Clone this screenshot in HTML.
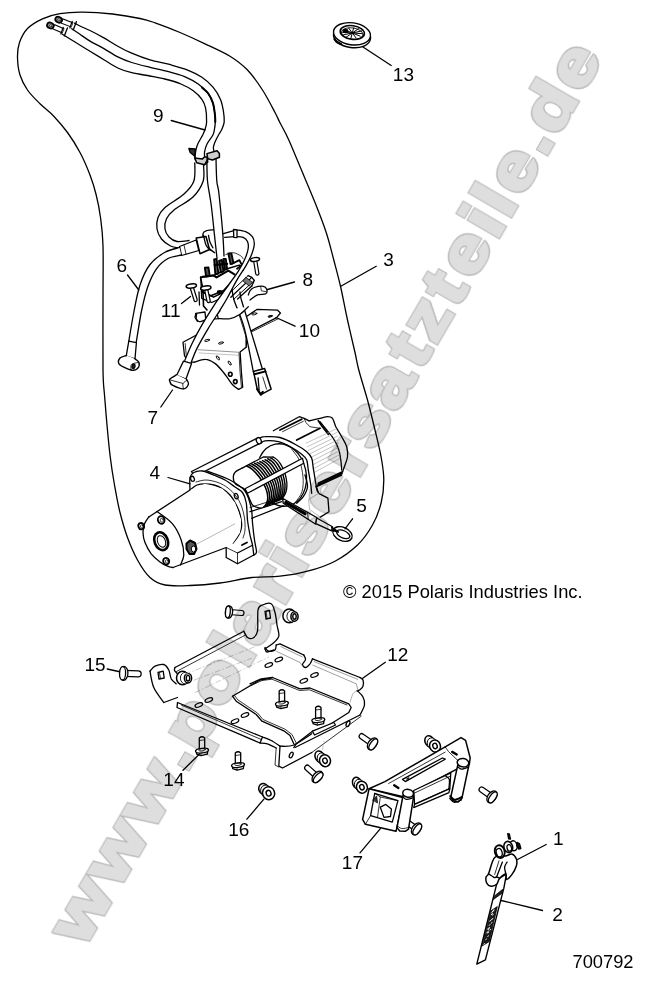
<!DOCTYPE html>
<html>
<head>
<meta charset="utf-8">
<title>700792</title>
<style>
html,body{margin:0;padding:0;background:#fff;}
body{width:647px;height:983px;overflow:hidden;}
svg{display:block;}
.wm{font-family:"Liberation Sans",sans-serif;font-weight:bold;font-size:65.2px;fill:#dedede;stroke-linejoin:miter;}
#wm{mix-blend-mode:multiply;}
.wmi{stroke:#dedede;stroke-width:2.6px;}
.n{font-family:"Liberation Sans",sans-serif;fill:#000;}
.l{fill:none;stroke:#000;stroke-width:1.3;stroke-linecap:round;stroke-linejoin:round;}
.t{fill:none;stroke:#000;stroke-width:0.8;stroke-linecap:round;stroke-linejoin:round;}
.w{fill:#fff;stroke:#000;stroke-width:1.3;stroke-linecap:round;stroke-linejoin:round;}
</style>
</head>
<body>
<svg width="647" height="983" viewBox="0 0 647 983">
<rect width="647" height="983" fill="#fff"/>
<defs><filter id="wf" x="-2%" y="-20%" width="104%" height="140%" color-interpolation-filters="sRGB"><feMorphology in="SourceAlpha" operator="dilate" radius="0.85" result="d"/><feFlood flood-color="#b6b6b6"/><feComposite in2="d" operator="in" result="rim"/><feMerge><feMergeNode in="rim"/><feMergeNode in="SourceGraphic"/></feMerge></filter></defs>
<!-- OUTLINE3 -->
<!-- PARTS -->
<g id="a_outline">
<path class="l" d="M155 22.8C148.3 20.5 147.1 20 140 18.5C132.9 17 122.1 15.1 112.5 14C102.9 12.9 91.2 12.2 82.5 12.2C73.8 12.1 66.7 12.6 60 13.7C53.3 14.8 47.9 16.3 42.5 18.8C37.1 21.3 31.3 24.6 27.5 28.5C23.7 32.5 21.2 37.7 19.5 42.5C17.8 47.3 17.4 52.1 17.5 57.5C17.6 62.9 18.3 69.6 20 75C21.7 80.4 24.2 85.2 27.5 90C30.8 94.8 35.6 99.4 40 103.8C44.4 108.1 49.2 111.5 53.8 116.2C58.3 121 63.1 126.5 67.5 132.5C71.9 138.5 76.2 145.4 80 152.5C83.8 159.6 87.3 167.9 90 175C92.7 182.1 94.5 187.9 96.2 195C98 202.1 99.4 209.1 100.5 217.5C101.6 225.9 102.6 231.8 103 245.5C103.4 259.2 103 279.2 103 300C103 320.8 102.8 354.2 103 370C103.2 385.8 103.8 385.8 104.5 395C105.2 404.2 106.1 415 107 425C107.9 435 108.8 445 110 455C111.2 465 112.8 475.4 114.5 485C116.2 494.6 117.8 503.8 120 512.5C122.2 521.2 124.6 529.6 127.5 537.5C130.4 545.4 133.8 553.3 137.5 560C141.2 566.7 145.4 573.3 150 577.5C154.6 581.7 158.3 583.7 165 585C171.7 586.3 180.8 585.8 190 585.5C199.2 585.2 209.7 584.3 220 583C230.3 581.7 241.8 578.6 251.8 577.5C261.8 576.4 270.7 577.3 280 576.2C289.3 575.2 298.3 573.8 307.5 571.2C316.7 568.8 326.7 565.6 335 561.2C343.3 556.9 351.2 551 357.5 545C363.8 539 368.5 532.1 372.5 525C376.5 517.9 379.4 510 381.2 502.5C383.1 495 383.8 487.5 383.8 480C383.8 472.5 382.7 465.8 381.2 457.5C379.8 449.2 377.3 439.6 375 430C372.7 420.4 370.2 410 367.5 400C364.8 390 360.8 377.9 358.8 370C356.7 362.1 356.9 360.8 355 352.5C353.1 344.2 349.9 330.8 347.5 320C345.1 309.2 343 297.5 340.8 287.5C338.5 277.5 336.2 269.2 333.8 260C331.3 250.8 329.4 242.1 326.2 232.5C323.1 222.9 319 212.5 315 202.5C311 192.5 306.9 182.9 302.5 172.5C298.1 162.1 292.5 148.3 288.8 140C285 131.7 282.3 127.3 280 122.8C277.7 118.2 277.9 118 275 112.5C272.1 107 267.1 97.1 262.5 90C257.9 82.9 252.9 75.6 247.5 70C242.1 64.4 237.1 60.6 230 56.2C222.9 51.9 213.3 47.7 205 43.8C196.7 39.8 188.3 36 180 32.5C171.7 29 161.7 25.1 155 22.8Z"/>
</g>
<g id="b_cables9">
<path d="M74.5 23.2L82 27L90 30.5L103.9 37.9L117.8 46.2L131.7 53.2L150 59.9L168.5 64.2L187.1 69.8L201.9 77.2L213 87.1L220.5 99.4L223.5 111.8L224.2 121.9L222 129L218.5 135L214.8 142.4L213.4 147L213.9 151L194.8 158.2L196.2 148.9L198.1 143.3L202.7 135L205 129.5L206.6 121.9L205.6 108.1L201.9 99.4L193.3 90.8L180.9 84L164.8 79L150 76L131.7 72.7L117.8 68L103.9 59.7L90 51.3L75 42L62.4 34.3Z" fill="#fff" stroke="none"/>
<path class="l" d="M74.5 23.2C75.8 23.8 79.4 25.8 82 27C84.6 28.2 86.3 28.7 90 30.5C93.7 32.3 99.3 35.3 103.9 37.9C108.5 40.5 113.2 43.7 117.8 46.2C122.4 48.8 126.3 50.9 131.7 53.2C137.1 55.5 143.9 58.1 150 59.9C156.1 61.7 162.3 62.6 168.5 64.2C174.7 65.9 181.5 67.6 187.1 69.8C192.7 72 197.6 74.3 201.9 77.2C206.2 80.1 209.9 83.4 213 87.1C216.1 90.8 218.8 95.3 220.5 99.4C222.2 103.5 222.9 108 223.5 111.8C224.1 115.5 224.4 119 224.2 121.9C223.9 124.8 222.9 126.8 222 129C221.1 131.2 219.7 132.8 218.5 135C217.3 137.2 215.7 140.4 214.8 142.4C214 144.4 213.6 145.6 213.4 147C213.2 148.4 213.8 150.3 213.9 151"/>
<path class="l" d="M71.7 28.7C73.1 29.6 77 32.2 80 34.3C83 36.4 86 38.7 90 41.1C94 43.5 99.3 46 103.9 48.6C108.5 51.2 113.2 54.6 117.8 56.9C122.4 59.2 126.3 60.8 131.7 62.5C137.1 64.2 143.9 65.8 150 67.3C156.1 68.8 162.7 70 168.5 71.6C174.3 73.1 179.7 74.5 184.6 76.6C189.5 78.7 194.3 81.2 198.2 84C202.1 86.8 205.6 90.1 208.1 93.3C210.6 96.5 211.9 99.7 213 103.2C214.1 106.7 214.5 111.2 214.9 114.3C215.3 117.4 215.4 119.5 215.3 121.9C215.2 124.4 214.9 126.8 214.5 129C214.1 131.2 214.2 132.4 212.9 135C211.6 137.6 208.3 141.5 206.9 144.3C205.5 147.1 205 149.7 204.6 151.7C204.2 153.7 204.6 155.5 204.6 156.3"/>
<path class="l" d="M62.4 34.3C64.5 35.6 70.4 39.2 75 42C79.6 44.8 85.2 48.3 90 51.3C94.8 54.2 99.3 56.9 103.9 59.7C108.5 62.5 113.2 65.8 117.8 68C122.4 70.2 126.3 71.4 131.7 72.7C137.1 74 144.5 75 150 76C155.5 77 159.7 77.7 164.8 79C170 80.3 176.2 82 180.9 84C185.7 86 189.8 88.2 193.3 90.8C196.8 93.4 199.9 96.5 201.9 99.4C203.9 102.3 204.8 104.3 205.6 108.1C206.4 111.8 206.7 118.3 206.6 121.9C206.5 125.5 205.7 127.3 205 129.5C204.3 131.7 203.8 132.7 202.7 135C201.5 137.3 199.2 141 198.1 143.3C197 145.6 196.8 146.4 196.2 148.9C195.6 151.4 195 156.6 194.8 158.2"/>
<path class="l" d="M202 87.5C203 88.5 206.3 90.7 208.1 93.3C209.9 95.9 211.9 99.7 213 103.2C214.1 106.7 214.5 111.2 214.9 114.3C215.3 117.4 215.2 120.6 215.3 121.9" style="stroke-width:2"/>
<path d="M53.4 26.7L63.5 31" stroke="#000" stroke-width="5.6" fill="none"/>
<path d="M53.9 26.9L62.9 30.8" stroke="#fff" stroke-width="3.4" fill="none"/>
<path class="l" d="M63.2 27.4L60.9 34"/>
<path class="l" d="M67.4 27.9L64.3 36"/>
<ellipse class="w" cx="50.4" cy="25.5" rx="3.5" ry="2.8" transform="rotate(25 50.4 25.5)" style="fill:#8a8a8a;stroke-width:1.7"/>
<ellipse class="w" cx="50.7" cy="25.7" rx="1.3" ry="0.9" transform="rotate(25 50.7 25.7)" style="stroke-width:0.5;fill:#ddd"/>
<path d="M61.7 20.9L72.5 25" stroke="#000" stroke-width="5.6" fill="none"/>
<path d="M62.2 21.1L71.9 24.8" stroke="#fff" stroke-width="3.4" fill="none"/>
<path class="l" d="M72.2 21.4L69.9 28"/>
<path class="l" d="M76.4 21.7L73.3 29.8"/>
<ellipse class="w" cx="58.7" cy="19.7" rx="3.5" ry="2.8" transform="rotate(25 58.7 19.7)" style="fill:#8a8a8a;stroke-width:1.7"/>
<ellipse class="w" cx="59" cy="19.9" rx="1.3" ry="0.9" transform="rotate(25 59 19.9)" style="stroke-width:0.5;fill:#ddd"/>
<path d="M206.9 160L207.5 181L211.2 205L215 240L217 258L224 256L222.5 230L218.8 192.5L216.8 181L216 158Z" fill="#fff" stroke="none"/>
<path class="l" d="M206.9 160C207 163.5 206.8 173.5 207.5 181C208.2 188.5 210 195.2 211.2 205C212.5 214.8 214 231.2 215 240C216 248.8 216.7 255 217 258"/>
<path class="l" d="M216 158C216.1 161.8 216.3 175.2 216.8 181C217.3 186.8 217.8 184.3 218.8 192.5C219.7 200.7 221.6 219.4 222.5 230C223.4 240.6 223.8 251.7 224 256"/>
<path class="l" d="M194.8 163C194.7 166 195.7 175.8 193.9 181C192.1 186.2 188.8 189.6 184 194C179.2 198.4 169.3 203.6 165 207.5C160.7 211.4 159.3 213.9 158 217.5C156.7 221.1 156.4 225.4 157 229C157.6 232.6 159.2 236.2 161.5 239C163.8 241.8 167.5 244.5 170.5 246C173.5 247.5 178 247.7 179.5 248"/>
<path class="l" d="M203.5 164C203.4 166.8 204.9 175.5 203.2 181C201.4 186.5 197.9 192.2 193 197C188.1 201.8 178.4 206.4 174 210C169.6 213.6 168 215.6 166.5 218.8C165 221.9 164.6 226 165 229C165.4 232 167 234.9 169 237C171 239.1 173.7 240.9 177 241.5C180.3 242.1 187 240.7 189 240.5"/>
<path class="w" d="M194.8 158.2L196.7 162.8L204.6 164.7L207.8 161.9L206.9 157.3L204.6 156.8L202.3 159.1L196.7 158.2Z" style="stroke-width:1.5;fill:#cfcfcf"/>
<path class="w" d="M206.9 153.6L217.1 150.8L219.4 153.6L219.4 157.3L212.5 160L207.8 158.7Z" style="stroke-width:1.5;fill:#cfcfcf"/>
<path class="l" d="M207.8 158.7L204.6 164.7"/>
<path class="w" d="M188.8 148.5L195.3 148.9L194.8 156.3L190.2 152.6Z" style="fill:#333;stroke-width:1.3"/>
<path class="l" d="M194.8 156.3L195.5 160"/>
</g>
<g id="c_solenoid">
<path class="w" d="M246.1 316.7L257.2 309.3L277.6 310.2L280.4 313L276.7 317.6L251.6 330.6L247 333L246.1 347.3"/>
<path class="t" d="M251.6 331.9L278.5 318.6"/>
<ellipse class="l" cx="254.4" cy="313.9" rx="2.6" ry="0.9" transform="rotate(-12 254.4 313.9)" style="stroke-width:0.9"/>
<ellipse class="l" cx="270.2" cy="316.3" rx="2.2" ry="0.8" transform="rotate(-12 270.2 316.3)" style="fill:#444;stroke-width:0.9"/>
<path class="w" d="M246.1 333.4L246.1 347.3L240.1 351.9L241.4 372.4L242.7 387.2L238.6 389.4L233.1 385.3L227.5 377.9L221.9 370.5L214.5 363.1L205.3 359.4L194.1 362.2L188.6 362.2L184.5 355.7L183 342.3L196 335.3L216.4 327.8L246.1 322.3Z" style="stroke:none"/>
<path class="l" d="M246.1 333.4L246.1 347.3L240.1 351.9L241.4 372.4L242.7 387.2L238.6 389.4"/>
<path class="l" d="M238.6 389.4C237.7 388.7 234.9 387.3 233.1 385.3C231.2 383.4 229.4 380.4 227.5 377.9C225.7 375.4 224.1 373 221.9 370.5C219.8 368 217.3 364.9 214.5 363.1C211.7 361.2 208.7 359.5 205.3 359.4C201.8 359.2 196 361.7 194.1 362.2"/>
<path class="l" d="M194.1 362.2L188.6 362.2L184.5 355.7L183 342.3L196 335.3"/>
<path class="t" d="M185.2 343.6L186.3 355.7L189.3 360.9"/>
<path d="M197.8 349.7L239.6 352.3" stroke="#666" stroke-width="0.7" fill="none"/>
<path d="M198.8 352.9L238.6 355.3" stroke="#999" stroke-width="0.6" fill="none"/>
<path class="t" d="M239 352.9L240.1 372.7L241.4 386.8"/>
<ellipse class="l" cx="207.1" cy="340.4" rx="2.6" ry="0.9" transform="rotate(-15 207.1 340.4)" style="stroke-width:0.9"/>
<ellipse class="l" cx="221" cy="343" rx="2.6" ry="0.9" transform="rotate(-15 221 343)" style="stroke-width:0.9"/>
<ellipse class="l" cx="217.9" cy="357.9" rx="1" ry="2.4" transform="rotate(-35 217.9 357.9)" style="stroke-width:0.9"/>
<ellipse class="l" cx="229.7" cy="363.1" rx="1" ry="2.4" transform="rotate(-35 229.7 363.1)" style="stroke-width:0.9"/>
<ellipse class="l" cx="230.3" cy="374.2" rx="1.8" ry="2" style="stroke-width:1.6"/>
<ellipse class="l" cx="235.3" cy="381.6" rx="1.8" ry="2" style="stroke-width:1.6"/>
<path d="M232 288L234 300L244.2 327.8L253.5 372.4L262.8 370.5L251.6 333.4L241.4 300L240 292Z" fill="#fff"/>
<path class="l" d="M232 288C232.3 290 232 293.4 234 300C236 306.6 241 315.8 244.2 327.8C247.5 339.9 251.9 364.9 253.5 372.4"/>
<path class="l" d="M240 292C240.2 293.3 239.5 293.1 241.4 300C243.4 306.9 248.1 321.6 251.6 333.4C255.2 345.1 260.9 364.3 262.8 370.5"/>
<path class="t" d="M236.8 307.4L246.1 337.1"/>
<path class="w" d="M253.5 371.4L264.6 368.6L271.1 389.1L260.9 394.6L257.2 389.1Z" style="stroke-width:1.5"/>
<path class="l" d="M254.4 374.2L265.5 371.4" style="stroke-width:2"/>
<path class="l" d="M258.1 377.9L259.1 390"/>
<path class="t" d="M262.8 377L266.5 389.1"/>
<path class="l" d="M257.2 389.1L260.9 394.6L262.8 391.8" style="stroke-width:2.2"/>
<path class="w" d="M196.7 313.7C196.6 314.5 195.9 317.3 196.3 318.7C196.8 320 197.6 321.4 199.2 321.7C200.8 321.9 202.6 320.5 205.8 320C209 319.5 214.3 318.9 218.3 318.7C222.4 318.4 226.4 319.4 230 318.7C233.6 317.9 236.9 316.2 240 314.2C243.1 312.2 246.9 307.9 248.3 306.7"/>
<path class="l" d="M195.8 313.3L205 312L205.8 320"/>
<path class="l" d="M218.3 318.7C218.2 317.9 217.2 315.5 217.5 314.2C217.8 312.9 219.6 311.4 220 310.8"/>
<path class="w" d="M248.3 295C248.6 294.3 249 292.1 250 290.8C251 289.6 251.9 288.2 254.2 287.5C256.4 286.8 261.2 286.1 263.3 286.3C265.4 286.6 266.2 287.9 266.7 289.2C267.1 290.4 267.2 292.8 265.8 293.7C264.4 294.6 260.4 294 258.3 294.7C256.2 295.3 254.7 296.6 253.3 297.5C251.9 298.4 250.6 299.6 250 300"/>
<path class="t" d="M260.8 287L261.3 290.8L266.3 291.7"/>
<path class="w" d="M200.5 277.4L202.4 286.1L203.6 292.3L213.5 297.2L220.9 293.5L230.8 282.4L243.2 270L239.4 265.1L227.1 268.8L214.7 275Z" style="stroke-width:1.5"/>
<path class="l" d="M200.8 276.7L201.7 298.3L211.7 302.5L225 296.7"/>
<path class="l" d="M201.7 291.7L210.8 295.8L223.3 290.8" style="stroke-width:1.6"/>
<ellipse class="l" cx="219.7" cy="292" rx="2.2" ry="1.3" style="fill:#000"/>
<path class="l" d="M230.8 297.2L251.8 277.4" style="stroke-width:1.3"/>
<path class="l" d="M233.3 299.7L254.3 280.5" style="stroke-width:1.0"/>
<path class="l" d="M237.6 299.1L251.8 286.1" style="stroke-width:1.3"/>
<path class="l" d="M227.1 295.4L248.1 275.6" style="stroke-width:1.0"/>
<path class="l" d="M248.1 275.6L251.8 277.4L254.3 280.5L251.8 286.1"/>
<path class="l" d="M246.2 277.4L252.4 282.4L249.3 286.1L243.2 281.2Z" style="fill:#777;stroke-width:0.8"/>
<path class="l" d="M214.7 252.7C213.9 252.1 211.4 250.7 209.8 249C208.1 247.4 206 245.4 204.8 242.8C203.7 240.3 202.6 235.6 203 233.6C203.4 231.5 205.6 231.1 207.3 230.5C209.1 229.9 212.5 230 213.5 229.9"/>
<path class="l" d="M208.5 235.4C208.7 236.4 209.1 239.5 209.8 241.6C210.5 243.7 212.4 246.7 212.9 247.8"/>
<path class="l" d="M224.6 237.3L234.5 236.7"/>
<path class="l" d="M223.4 233.6L233.9 230.7"/>
<path class="t" d="M225.8 254.6C227.1 254.3 230.8 252.5 233.3 252.7C235.7 252.9 239 254.8 240.7 255.8C242.3 256.8 242.7 258.4 243.2 258.9"/>
<path class="w" d="M214.1 259.5L216.6 258.9L218.4 273.7L215.3 274.4Z" style="fill:#555;stroke-width:1.8"/>
<path class="w" d="M219 260.8L221.9 259.9L223.6 271.3L220.7 272.5Z" style="fill:#555;stroke-width:1.8"/>
<path class="w" d="M223.4 258.9L225.8 258.9L227.1 268.8L224.9 269.4Z" style="fill:#555;stroke-width:1.8"/>
<path class="w" d="M228.3 253.3L231.4 253.3L233.5 263.2L230.5 264.1Z" style="fill:#555;stroke-width:1.8"/>
<path class="w" d="M204.8 267.6L208.5 267.3L209.8 276.2L206.1 276.5Z" style="fill:#555;stroke-width:1.8"/>
<path class="l" d="M202.4 276.8L213.5 275.6L216.6 277.4L228.3 270.6L234.5 274.4" style="stroke-width:2"/>
<path class="l" d="M232 263.8L239.4 260.1L241.9 265.1L237 268.8" style="stroke-width:1.8"/>
<path class="l" d="M214.7 265.1L227.1 263.8" style="stroke-width:2.2"/>
<path class="w" d="M196.2 238L206 236.5L209.5 249.5L200 253.8Z" style="stroke-width:1.5"/>
<path class="w" d="M179.5 246.5L196.2 240L198.8 250.5L181.5 255.5Z"/>
<path class="t" d="M184 245L186 254"/>
<path class="l" d="M203.6 235.4C204 237.1 204.9 242.8 206.1 245.3C207.2 247.8 209.7 249.4 210.4 250.2"/>
<path d="M191.3 286L195.6 300" stroke="#000" stroke-width="4.4" fill="none" stroke-linecap="round"/><path d="M191.3 286L195.6 300" stroke="#fff" stroke-width="2" fill="none" stroke-linecap="round"/><ellipse class="w" cx="191.3" cy="286" rx="5.2" ry="2" transform="rotate(-8 191.3 286)" style="stroke-width:1.5"/>
<path d="M205.8 288L208.6 301" stroke="#000" stroke-width="4.4" fill="none" stroke-linecap="round"/><path d="M205.8 288L208.6 301" stroke="#fff" stroke-width="2" fill="none" stroke-linecap="round"/><ellipse class="w" cx="205.8" cy="288" rx="5.2" ry="2" transform="rotate(-8 205.8 288)" style="stroke-width:1.5"/>
<path d="M255 259.5L257.3 273.5" stroke="#000" stroke-width="4.4" fill="none" stroke-linecap="round"/><path d="M255 259.5L257.3 273.5" stroke="#fff" stroke-width="2" fill="none" stroke-linecap="round"/><ellipse class="w" cx="255" cy="259.5" rx="4.6" ry="1.9" transform="rotate(-8 255 259.5)" style="stroke-width:1.5"/>
<path class="l" d="M203 291L203.5 306L207 310" style="stroke-width:1.6"/>
<path class="l" d="M199 292L199.5 305"/>
<path class="l" d="M195.8 313.7L195 317.5L197.5 321.3"/>
</g>
<g id="d_cables67">
<path d="M179.5 247.5L165 252.3L150 264.5L140 285L133.8 312.5L128.8 341.2L136.2 342.5L141.2 312.5L147.5 287.5L156.5 268.8L168 258.5L181.2 255Z" fill="#fff"/>
<path class="l" d="M179.5 247.5C177.1 248.3 169.9 249.5 165 252.3C160.1 255.1 154.2 259.1 150 264.5C145.8 269.9 142.7 277 140 285C137.3 293 135.6 303.1 133.8 312.5C131.9 321.9 129.6 336.5 128.8 341.2"/>
<path class="l" d="M181.2 255C179 255.6 172.1 256.2 168 258.5C163.9 260.8 159.9 263.9 156.5 268.8C153.1 273.6 150 280.2 147.5 287.5C145 294.8 143.1 303.3 141.2 312.5C139.4 321.7 137.1 337.5 136.2 342.5"/>
<path class="w" d="M128.8 341.2L136.4 342.7L135 358.8L126.2 356.2Z"/>
<path class="w" d="M126.5 355.5C125.4 355.9 121.2 356.5 120 358C118.8 359.5 117.7 362.5 119.5 364.5C121.3 366.5 128 369.3 131 370C134 370.7 136.2 369.8 137.5 368.5C138.8 367.2 139.5 364.2 139 362.5C138.5 360.8 135.2 359.2 134.5 358.5" style="stroke-width:1.4"/>
<path class="t" d="M131 370C131.1 369.1 130.3 365.8 131.5 364.5C132.7 363.2 136.9 362.8 138 362.5"/>
<ellipse class="l" cx="133.5" cy="366.3" rx="1.5" ry="2.2" transform="rotate(10 133.5 366.3)" style="fill:#222"/>
<path d="M235.7 229.9L245.6 231.7L252.4 236.7L254.3 244.1L251.8 254L245.6 266.3L237 279.9L227 298.5L219.4 311L208.3 328.3L197.1 348.1L191 362.9L184.8 360.5L192.2 343.2L202.1 324.6L214.4 304.8L219.5 297.5L229.6 283.6L238.2 271.3L244.4 260.1L248.1 249L247.5 241.6L243.2 237.3L235.1 236.7Z" fill="#fff"/>
<path class="l" d="M235.7 229.9C237.3 230.2 242.8 230.6 245.6 231.7C248.4 232.8 250.9 234.6 252.4 236.7C253.9 238.8 254.4 241.2 254.3 244.1C254.2 247 253.2 250.3 251.8 254C250.4 257.7 248.1 262 245.6 266.3C243.1 270.6 240.1 274.5 237 279.9C233.9 285.3 229.9 293.3 227 298.5C224.1 303.7 222.5 306 219.4 311C216.3 316 212 322.1 208.3 328.3C204.6 334.5 200 342.3 197.1 348.1C194.2 353.9 192 360.4 191 362.9"/>
<path class="l" d="M235.1 236.7C236.4 236.8 241.1 236.5 243.2 237.3C245.3 238.1 246.7 239.7 247.5 241.6C248.3 243.5 248.6 245.9 248.1 249C247.6 252.1 246.1 256.4 244.4 260.1C242.8 263.8 240.7 267.4 238.2 271.3C235.7 275.2 232.7 279.2 229.6 283.6C226.5 288 222 294 219.5 297.5C217 301 217.3 300.3 214.4 304.8C211.5 309.3 205.8 318.2 202.1 324.6C198.4 331 195.1 337.2 192.2 343.2C189.3 349.2 186 357.6 184.8 360.5"/>
<path class="w" d="M233.5 229.5L237 229.8L237 237.6L233.8 237.3Z"/>
<path class="w" d="M183.5 361.1L191.6 363.5L186 379L176.7 375.3Z"/>
<path class="w" d="M176.7 374.7C175.6 375.4 171 377.9 169.9 379C168.8 380.1 169.5 380.5 169.9 381.5C170.3 382.5 170.1 384 172.4 385.2C174.7 386.4 180.8 389.1 183.5 388.9C186.2 388.7 188 385.5 188.5 383.9C189 382.3 186.8 380.2 186.5 379.5" style="stroke-width:1.4"/>
<path class="t" d="M183.5 388.9C183.4 388 182.3 385 183 383.5C183.7 382 186.8 380.6 187.5 380"/>
<path class="t" d="M170.5 380L183 383.5"/>
</g>
<g id="e_winch">
<path class="w" d="M273.3 430.8L299.2 416.7L304.2 418.3L309.2 420.8L320 418.3L327.5 416.7L332.5 418.3L335.8 426.7L341.7 436.7L346.7 446.7L347.5 456.7L345 465L342.5 471.7L318.3 483.3L315 471.7L303.3 450L291.7 440.8Z" style="stroke:none"/>
<path class="l" d="M273.3 430.8L299.2 416.7L304.2 418.3L309.2 420.8"/>
<path class="l" d="M280 430L301.7 419.2" style="stroke-width:1.8"/>
<path class="t" d="M282.5 431.7L303.3 421.3"/>
<path class="l" d="M309.2 420.8C311 420.4 316.9 419 320 418.3C323.1 417.6 325.4 416.7 327.5 416.7C329.6 416.7 331.1 416.7 332.5 418.3C333.9 420 334.3 423.6 335.8 426.7C337.4 429.7 339.9 433.3 341.7 436.7C343.5 440 345.7 443.3 346.7 446.7C347.6 450 347.8 453.6 347.5 456.7C347.2 459.7 345.8 462.5 345 465C344.2 467.5 342.9 470.6 342.5 471.7"/>
<path class="l" d="M320 421.7C321.1 423.1 324.4 427.2 326.7 430C328.9 432.8 331.4 435.3 333.3 438.3C335.3 441.4 337.1 444.7 338.3 448.3C339.6 451.9 340.3 456.4 340.8 460C341.4 463.6 341.5 468.3 341.7 470"/>
<path class="l" d="M318.3 420.8C319.1 421.9 321.3 425.3 323 427.5C324.7 429.7 327.4 433.1 328.3 434.2" style="stroke-width:1.8"/>
<path class="l" d="M296.7 440L320 428.3" style="stroke-width:1.8"/>
<path class="t" d="M304.2 418.3L305.8 422.5L310 426.7L320 428.3"/>
<path class="l" d="M342.5 471.7L318.3 483.3" style="stroke-width:1.8"/>
<path class="l" d="M342 473.3L318 484.7" style="stroke-width:1.8"/>
<path class="l" d="M341.5 475L317.7 486" style="stroke-width:1.8"/>
<path d="M305.8 443.3L336.7 428.7" stroke="#9a9a9a" stroke-width="0.6" fill="none"/>
<path d="M306.8 447L337.2 432.3" stroke="#9a9a9a" stroke-width="0.6" fill="none"/>
<path d="M307.8 450.7L337.7 436" stroke="#9a9a9a" stroke-width="0.6" fill="none"/>
<path d="M308.8 454.3L338.2 439.7" stroke="#9a9a9a" stroke-width="0.6" fill="none"/>
<path d="M309.8 458L338.7 443.3" stroke="#9a9a9a" stroke-width="0.6" fill="none"/>
<path d="M310.8 461.7L339.2 447" stroke="#9a9a9a" stroke-width="0.6" fill="none"/>
<path d="M311.8 465.3L339.7 450.7" stroke="#9a9a9a" stroke-width="0.6" fill="none"/>
<path d="M312.8 469L340.2 454.3" stroke="#9a9a9a" stroke-width="0.6" fill="none"/>
<path d="M313.8 472.7L340.7 458" stroke="#9a9a9a" stroke-width="0.6" fill="none"/>
<path d="M259.2 438.3L265 436.7L280 437.5L295 444.2L306.7 451.7L311.7 458.3L313.3 468.3L315.8 483.3L317.5 491.7L318.7 493.3L327.9 498.1L329 511.7L320.3 517.1L300 505L262 500L258 445Z" fill="#fff"/>
<ellipse class="w" cx="281.7" cy="475" rx="24.5" ry="31.5" transform="rotate(-12 281.7 475)"/>
<path class="t" d="M291.7 449.2C292.9 451 297.3 455.4 299.2 460C301.1 464.6 302.5 471.4 303 476.7C303.5 481.9 303.2 487.5 302 491.7C300.8 495.8 296.9 500 295.8 501.7"/>
<path class="l" d="M259.2 438.3C260.1 438.1 261.5 436.8 265 436.7C268.5 436.5 275 436.2 280 437.5C285 438.8 290.6 441.8 295 444.2C299.4 446.5 303.9 449.3 306.7 451.7C309.4 454 310.6 455.6 311.7 458.3C312.8 461.1 312.6 464.2 313.3 468.3C314 472.5 315.1 479.4 315.8 483.3C316.5 487.2 317.5 491.2 317.5 491.7C317.5 492.1 316.2 487.1 316 486.2"/>
<path class="l" d="M260.8 443.3C261.5 442.9 262.1 441.1 265 440.8C267.9 440.6 273.9 440.6 278.3 441.7C282.8 442.8 287.8 445.4 291.7 447.5C295.6 449.6 299.2 452.1 301.7 454.2C304.2 456.2 305.6 457.4 306.7 460C307.8 462.6 307.6 465.8 308.3 470C309 474.2 310.3 481.1 310.8 485C311.4 488.9 311.5 491.9 311.7 493.3"/>
<path class="l" d="M316 486.2L318.7 493.3L327.9 498.1L329 511.7L320.3 517.1"/>
<path d="M320.3 517.1L309.5 509.5L308.6 499.5L318.7 493.3" stroke="#999" stroke-width="0.7" fill="none"/>
<path class="l" d="M305 475C305.4 476.9 307.8 483.1 307.5 486.7C307.2 490.3 305.1 493.9 303.3 496.7C301.5 499.4 297.8 502.2 296.7 503.3"/>
<path d="M240 469.2C245 465.8 257.8 458.6 263.3 456.7C268.9 454.7 270 456.1 273.3 457.5C276.7 458.9 280.7 461.5 283.3 465C286 468.5 288.1 473.9 289.2 478.3C290.3 482.8 290.7 488.3 290 491.7C289.3 495 287.5 496.7 285 498.3C282.5 500 279.2 500 275 501.7C270.8 503.3 265.3 510.3 260 508.3C254.7 506.4 247.5 494.2 243.3 490C239.2 485.8 236.7 485.6 235 483.3C233.3 481.1 232.5 479 233.3 476.7C234.2 474.3 235 472.5 240 469.2Z" fill="#fff"/>
<path class="l" style="stroke-width:1.5" d="M246.7 466C257 469.7 275.7 495.7 263.7 507"/>
<path class="l" style="stroke-width:1.5" d="M249.3 465.1C259.6 468.8 277.4 494.9 265.4 506.2"/>
<path class="l" style="stroke-width:1.5" d="M251.9 464.2C262.3 467.9 279.2 494.1 267.2 505.5"/>
<path class="l" style="stroke-width:1.5" d="M254.6 463.3C264.9 467 281 493.4 269 504.7"/>
<path class="l" style="stroke-width:1.5" d="M257.2 462.4C267.5 466.1 282.7 492.6 270.7 503.9"/>
<path class="l" style="stroke-width:1.5" d="M259.8 461.5C270.2 465.2 284.5 491.8 272.5 503.2"/>
<path class="l" style="stroke-width:1.5" d="M262.5 460.6C272.8 464.3 286.3 491.1 274.3 502.4"/>
<path class="l" style="stroke-width:1.5" d="M265.1 459.7C275.4 463.4 288 490.3 276 501.6"/>
<path class="l" style="stroke-width:1.5" d="M267.7 458.8C278.1 462.5 289.8 489.5 277.8 500.9"/>
<path class="l" style="stroke-width:1.5" d="M270.4 457.9C280.7 461.6 291.6 488.8 279.6 500.1"/>
<path class="l" style="stroke-width:1.3" d="M273 457C283.3 460.7 293.3 488 281.3 499.3"/>
<path class="l" d="M243.3 488.3C241.9 487.5 236.7 485.3 235 483.3C233.3 481.4 233.3 478.6 233.3 476.7C233.4 474.8 233.9 473.4 235.3 472C236.7 470.6 240.6 468.9 241.7 468.3"/>
<path class="l" d="M241.7 468.3L263.3 457L273.3 457.2"/>
<path class="l" d="M243.3 488.3C243.9 489 245.6 490.6 246.7 492.5C247.8 494.4 248.9 497.8 250 500C251.1 502.2 251.5 504.4 253.3 505.8C255.1 507.2 259.6 507.9 260.8 508.3"/>
<path class="w" d="M191.5 471.5L257.5 438L260 443.3L194.5 476.5Z"/>
<ellipse class="w" cx="258.8" cy="440.7" rx="2.4" ry="3.2" transform="rotate(-25 258.8 440.7)"/>
<path class="w" d="M245 488.7L302.5 458.3L303.7 463.3L247.5 493.3Z"/>
<path class="l" d="M250 511.7L281.7 501.7"/>
<path class="l" d="M251.7 518.3L283.3 505.8"/>
<path class="t" d="M250 507.5L275 499.7"/>
<path class="w" d="M282.5 498.3L316.7 517.5L315.8 524.2L283.3 503.3Z"/>
<path class="l" d="M285.8 502.5L305 513.7" style="stroke-width:3.2"/>
<path class="t" d="M307.5 512.5L308.3 519.7"/>
<path class="w" d="M316.7 518L332.5 526.7L331.7 530.8L315.8 523.7Z"/>
<ellipse class="w" cx="342.5" cy="534" rx="10.2" ry="6.6" transform="rotate(24 342.5 534)" style="stroke-width:1.4"/>
<ellipse class="l" cx="343.2" cy="534.3" rx="7" ry="3.6" transform="rotate(24 343.2 534.3)"/>
<path class="l" d="M331.7 527.5L338.3 532L331.3 530.3" style="stroke-width:1.6"/>
<path class="w" d="M190 477.5L193.8 472.5L202.5 471L215 475.5L225 480L235 487L242.5 492.5L246.2 502.5L247.5 520L250 535L252.5 545L253.8 555L237.5 563.8L226.2 557.5L226.2 547.5L190 490Z" style="stroke:none"/>
<path class="l" d="M190 490C190 487.9 189.4 480.4 190 477.5C190.6 474.6 191.7 473.6 193.8 472.5C195.8 471.4 199 470.5 202.5 471C206 471.5 211.2 474 215 475.5C218.8 477 221.7 478.1 225 480C228.3 481.9 232.1 484.9 235 487C237.9 489.1 240.6 489.9 242.5 492.5C244.4 495.1 245.4 497.9 246.2 502.5C247.1 507.1 246.9 514.6 247.5 520C248.1 525.4 249.2 530.8 250 535C250.8 539.2 251.9 541.7 252.5 545C253.1 548.3 253.5 553.3 253.8 555"/>
<path class="l" d="M207.5 471.2C211.2 472.7 223.8 476.7 230 480C236.2 483.3 241.5 486.3 245 491C248.5 495.7 250 502.7 251.2 508C252.5 513.3 252 517.4 252.5 522.8C253 528.1 253.8 535.1 254.5 540C255.2 544.9 256.6 549.5 256.5 552C256.4 554.5 254.2 554.5 253.8 555"/>
<path class="l" d="M253.8 555L237.5 563.8L226.2 557.5L226.2 547.5"/>
<path class="t" d="M237.5 563.8L237.5 553L226.2 547.5"/>
<path class="l" d="M237.5 553L252 545.5"/>
<path class="l" d="M242 545L247 542.5" style="stroke-width:1.8"/>
<ellipse class="l" cx="192.5" cy="478.8" rx="1.8" ry="2.6" transform="rotate(-20 192.5 478.8)"/>
<ellipse class="l" cx="236.2" cy="496.2" rx="1.8" ry="2.8" transform="rotate(-20 236.2 496.2)"/>
<path class="l" d="M190 490C191.2 489.2 194.5 486 197 485C199.5 484 202.2 483.8 205 483.8C207.8 483.8 211.1 484.2 214 485C216.9 485.8 219.8 487.1 222.5 488.8C225.2 490.4 227.9 492.7 230 495C232.1 497.3 233.5 499.8 235 502.5C236.5 505.2 238 508.1 239 511C240 513.9 240.8 517.3 241.2 520C241.7 522.7 241.7 524.9 241.5 527C241.3 529.1 240.8 530.7 240 532.5C239.2 534.3 238.2 536.2 237 538C235.8 539.8 233.7 542.2 233 543"/>
<path class="t" d="M196 482C197.7 481.7 202.3 479.9 206 480C209.7 480.1 214.3 481.2 218 482.5C221.7 483.8 225 485.8 228 488C231 490.2 233.8 493 236 496C238.2 499 240.1 502.3 241.5 506C242.9 509.7 243.9 514 244.5 518C245.1 522 245.2 526.7 245 530C244.8 533.3 243.3 536.7 243 538"/>
<path d="M148.8 517L144.5 523.8L143 532.5L145 542.5L151.2 553.8L160 562L167.5 566.2L173 567.5L226.2 547.5L233 543L240 532.5L241.2 520L235 502.5L222.5 488.8L205 483.8L190 490Z" fill="#fff"/>
<path class="l" d="M148.8 517C148 518.1 145.5 521.2 144.5 523.8C143.5 526.3 142.9 529.4 143 532.5C143.1 535.6 143.6 539 145 542.5C146.4 546 148.8 550.5 151.2 553.8C153.8 557 157.3 559.9 160 562C162.7 564.1 165.3 565.3 167.5 566.2C169.7 567.2 172.1 567.3 173 567.5"/>
<path class="l" d="M148.8 517L190 490"/>
<path class="l" d="M173 567.5L226.2 547.5"/>
<path class="l" d="M157 511.5C159.6 513.5 168.5 519 172.5 523.8C176.5 528.5 179.4 534.8 181.2 540C183.1 545.2 183.9 550.8 183.8 555C183.6 559.2 181 563.3 180.5 565"/>
<path d="M195 545L235 523.75" stroke="#888" stroke-width="0.6" fill="none"/>
<ellipse class="w" cx="161.2" cy="541.2" rx="6.6" ry="9.2" transform="rotate(-22 161.2 541.2)" style="stroke-width:2.6"/>
<ellipse class="l" cx="161.5" cy="541.4" rx="3.9" ry="6" transform="rotate(-22 161.5 541.4)" style="stroke-width:1"/>
<ellipse class="w" cx="161.2" cy="520" rx="3.3" ry="3.8" transform="rotate(-20 161.2 520)" style="stroke-width:1.8"/>
<ellipse class="l" cx="161.8" cy="520.3" rx="1.5" ry="2" transform="rotate(-20 161.8 520.3)" style="stroke-width:0.7"/>
<ellipse class="w" cx="141.2" cy="526.2" rx="2.8" ry="3.2" transform="rotate(-20 141.2 526.2)" style="stroke-width:1.8"/>
<ellipse class="l" cx="141.8" cy="526.5" rx="1.3" ry="1.7" transform="rotate(-20 141.8 526.5)" style="stroke-width:0.7"/>
<ellipse class="w" cx="166.2" cy="561.2" rx="3" ry="3.4" transform="rotate(-20 166.2 561.2)" style="stroke-width:1.8"/>
<ellipse class="l" cx="166.8" cy="561.5" rx="1.4" ry="1.8" transform="rotate(-20 166.8 561.5)" style="stroke-width:0.7"/>
<path class="w" d="M186.5 543.5L190 540.5L195 543L196.5 549L194 554L189.5 554L186.5 549Z" style="fill:#555;stroke-width:2"/>
<ellipse class="w" cx="193.5" cy="549" rx="2.2" ry="3" style="stroke-width:1"/>
</g>
<g id="f_bracket12">
<path class="l" d="M150 671.2C150.8 670.4 152.7 667.4 155 666.2C157.3 665.1 161.5 663.9 163.8 664.5C166 665.1 167.5 667.6 168.8 670C170 672.4 170 676.5 171.2 678.8C172.5 681 175.4 682.9 176.2 683.8"/>
<path class="l" d="M150 671.2C150.6 674 151.5 682.3 153.8 687.5C156 692.7 162.1 700 163.8 702.5"/>
<path class="l" d="M163.8 702.5L177.5 697.5"/>
<path class="l" d="M158 672.5L163.2 671.2L164.2 678L159 679.2Z"/>
<path class="t" d="M159.5 673.2L160.5 678.5"/>
<path class="l" d="M175 667.5L243.8 631.2"/>
<path class="t" d="M176.5 671.5L244.5 635.5"/>
<path class="l" d="M175 667.5C174.9 668 174.1 669.5 174.5 670.5C174.9 671.5 177 673.2 177.5 673.8"/>
<path class="l" d="M243.8 631.2C244.4 632.3 246 636.4 247.5 637.5C249 638.6 251.3 639 253 638C254.7 637 256.7 635.9 257.5 631.2C258.3 626.6 257.2 614.4 258 610C258.8 605.6 260.3 606 262.5 605C264.7 604 269.2 602.5 271.2 603.8C273.3 605 274 609 275 612.5C276 616 276.4 621 277 625C277.6 629 279.5 633.1 278.8 636.2C278 639.4 274.8 641.7 272.5 643.8C270.2 645.8 266.2 647.9 265 648.8"/>
<path class="l" d="M265 611.5L269.5 610.5L270.5 618L266 619Z"/>
<path class="t" d="M266.2 612L267 618.5"/>
<path class="l" d="M265 648.8C265.3 649.3 265.5 651.8 267 652C268.5 652.2 272.6 650.3 273.8 650"/>
<path class="l" d="M265 647.5C265.6 648.1 267.1 650.8 268.8 651.2C270.4 651.7 273.8 651 275 650C276.2 649 276 645.8 276.2 645"/>
<path class="l" d="M276.2 645L280 643.8L303.8 655"/>
<path class="l" d="M303.8 655C304 655.8 305.7 657.9 305.5 659.5C305.3 661.1 302.5 663.2 302.5 664.5C302.5 665.8 304.2 667.6 305.5 667.5C306.8 667.4 308.8 665.2 310 663.8C311.2 662.3 312.1 659.6 312.5 658.8"/>
<path class="l" d="M312.5 658.8L360 677.5"/>
<path class="l" d="M360 677.5C360.5 677.9 362.5 678.5 363 680C363.5 681.5 363.6 684.6 363 686.2C362.4 687.9 360.5 689.2 359.5 690C358.5 690.8 357.4 690.6 357 690.8"/>
<path d="M276.2 651.2L300 662.5L302.5 666.2" stroke="#777" stroke-width="0.7" fill="none"/>
<path d="M312.5 665L356.2 683.8L358 690" stroke="#777" stroke-width="0.7" fill="none"/>
<path d="M280.5 646.5L302.5 657" stroke="#777" stroke-width="0.7" fill="none"/>
<path d="M313.8 661.5L358 679.5" stroke="#777" stroke-width="0.7" fill="none"/>
<path class="l" d="M357.5 690.8C358.4 691.8 361.8 694.6 363 697C364.2 699.4 365 702 364.5 705C364 708 360.8 713.3 360 715"/>
<path class="l" d="M360 715L295 747.5"/>
<path d="M357.5 690.8C356.8 691.2 354.2 691.8 353 693.8C351.8 695.7 350.5 701 350 702.5" stroke="#888" stroke-width="0.7" fill="none"/>
<path class="l" d="M250 683.8L261.2 678.8L272.5 677.5L300 688.8L310 688L348.8 703.8L351.2 707.5L348.8 712.5L335 721.2L325 727.5L312.5 731.2L296.2 743.8L293.8 747.5"/>
<path class="l" d="M232.5 696.2L260 680L267.5 678.8L272.5 677.5"/>
<path class="l" d="M232.5 696.2L236.2 701.2L256.2 714.5L262 721.2L283.8 730.8L290 735.5L293.8 743.8"/>
<path class="t" d="M234.5 695.5L238 700L257.5 713L263 719.5L285 729.2L292 734.5L296 742.5"/>
<path class="t" d="M251.2 685.5L262 680.5L272 679.2L299.5 690.5L309.5 689.8L347 705"/>
<path class="w" d="M312.5 731.2L333.8 722.5L335.5 725L314.5 735Z"/>
<path class="w" d="M177.5 702.5L262.5 737L260 743L177 707.5Z"/>
<path class="t" d="M181.2 705L261.2 739.5"/>
<path class="l" d="M262.5 737C264.2 737.7 269.6 739.7 272.5 741.2C275.4 742.8 278.8 745.4 280 746.2"/>
<path class="l" d="M280 746.2L278.8 766.2L282.5 768L311.8 752.5"/>
<path class="t" d="M311.8 752.5L361.2 716.2"/>
<path class="l" d="M260 743C261.2 743.1 264.8 742.9 267.5 743.8C270.2 744.6 274.8 747.3 276.2 748"/>
<path class="t" d="M276.2 748L275 765L278.8 767"/>
<path class="l" d="M280 746.2C282.3 746 288.5 747.1 293.8 745C299 742.9 308.8 735.6 311.8 733.8"/>
<ellipse class="l" cx="208.8" cy="700" rx="4" ry="1.9" transform="rotate(-22 208.8 700)" style="stroke-width:1.2"/>
<ellipse class="l" cx="198.8" cy="705" rx="4" ry="1.9" transform="rotate(-22 198.8 705)" style="stroke-width:1.2"/>
<ellipse class="l" cx="245" cy="715" rx="4" ry="1.9" transform="rotate(-22 245 715)" style="stroke-width:1.2"/>
<ellipse class="l" cx="235" cy="721.2" rx="4" ry="1.9" transform="rotate(-22 235 721.2)" style="stroke-width:1.2"/>
<ellipse class="l" cx="278.8" cy="659.5" rx="4" ry="1.9" transform="rotate(-22 278.8 659.5)" style="stroke-width:1.2"/>
<ellipse class="l" cx="268.8" cy="665" rx="4" ry="1.9" transform="rotate(-22 268.8 665)" style="stroke-width:1.2"/>
<ellipse class="l" cx="314.5" cy="675" rx="4" ry="1.9" transform="rotate(-22 314.5 675)" style="stroke-width:1.2"/>
<ellipse class="l" cx="303.8" cy="680.8" rx="4" ry="1.9" transform="rotate(-22 303.8 680.8)" style="stroke-width:1.2"/>
<ellipse class="l" cx="291.2" cy="755" rx="1.6" ry="3" transform="rotate(25 291.2 755)"/>
<ellipse class="l" cx="348" cy="723.8" rx="1.6" ry="3" transform="rotate(25 348 723.8)"/>
<path class="w" style="stroke-width:1.3" d="M279.2 703L279.2 691Q281.9 688.5 284.6 691L284.6 703Z"/><path class="t" d="M279.2 693.5L284.6 692.8"/><path class="w" style="stroke-width:1.3" d="M276.2 704L276.6 707.2L280.9 708.6L287.2 707.2L287.6 704L281.9 702.5Z"/><ellipse class="w" cx="281.9" cy="703.6" rx="6.5" ry="2.3" transform="rotate(-6 281.9 703.6)" style="stroke-width:1.3"/><ellipse class="l" cx="281.9" cy="702.8" rx="3.3" ry="1.2" transform="rotate(-6 281.9 702.8)" style="stroke-width:0.8"/><path class="t" d="M280.9 706L280.9 708.4"/>
<path class="w" style="stroke-width:1.3" d="M315.6 719.5L315.6 707.5Q318.3 705 321 707.5L321 719.5Z"/><path class="t" d="M315.6 710L321 709.3"/><path class="w" style="stroke-width:1.3" d="M312.6 720.5L313 723.7L317.3 725.1L323.6 723.7L324 720.5L318.3 719Z"/><ellipse class="w" cx="318.3" cy="720.1" rx="6.5" ry="2.3" transform="rotate(-6 318.3 720.1)" style="stroke-width:1.3"/><ellipse class="l" cx="318.3" cy="719.3" rx="3.3" ry="1.2" transform="rotate(-6 318.3 719.3)" style="stroke-width:0.8"/><path class="t" d="M317.3 722.5L317.3 724.9"/>
<path class="w" style="stroke-width:1.3" d="M199.3 750L199.3 738Q202 735.5 204.7 738L204.7 750Z"/><path class="t" d="M199.3 740.5L204.7 739.8"/><path class="w" style="stroke-width:1.3" d="M196.3 751L196.7 754.2L201 755.6L207.3 754.2L207.7 751L202 749.5Z"/><ellipse class="w" cx="202" cy="750.6" rx="6.5" ry="2.3" transform="rotate(-6 202 750.6)" style="stroke-width:1.3"/><ellipse class="l" cx="202" cy="749.8" rx="3.3" ry="1.2" transform="rotate(-6 202 749.8)" style="stroke-width:0.8"/><path class="t" d="M201 753L201 755.4"/>
<path class="w" style="stroke-width:1.3" d="M235.3 764.5L235.3 753Q238 750.5 240.7 753L240.7 764.5Z"/><path class="t" d="M235.3 755.5L240.7 754.8"/><path class="w" style="stroke-width:1.3" d="M232.3 765.5L232.7 768.7L237 770.1L243.3 768.7L243.7 765.5L238 764Z"/><ellipse class="w" cx="238" cy="765.1" rx="6.5" ry="2.3" transform="rotate(-6 238 765.1)" style="stroke-width:1.3"/><ellipse class="l" cx="238" cy="764.3" rx="3.3" ry="1.2" transform="rotate(-6 238 764.3)" style="stroke-width:0.8"/><path class="t" d="M237 767.5L237 769.9"/>
<ellipse class="w" cx="182.5" cy="678" rx="6" ry="6.8" style="stroke-width:1.5"/><ellipse class="w" cx="185.2" cy="678.1" rx="4.8" ry="5.8" style="stroke-width:0.9"/><ellipse class="w" cx="188" cy="678.2" rx="3.6" ry="4.8" style="stroke-width:1.5"/><ellipse class="w" cx="188" cy="678.2" rx="1.7" ry="2.8" style="stroke-width:1.4"/>
<ellipse class="w" cx="289.3" cy="615.9" rx="6.4" ry="6.8" style="stroke-width:1.5"/><ellipse class="w" cx="291.9" cy="616.2" rx="5" ry="5.8" style="stroke-width:0.9"/><ellipse class="w" cx="294.5" cy="616.5" rx="3.6" ry="4.8" style="stroke-width:1.5"/><ellipse class="w" cx="294.5" cy="616.5" rx="1.7" ry="2.8" style="stroke-width:1.4"/>
<path d="M229.5 612L241.5 613" stroke="#000" stroke-width="6.2" fill="none" stroke-linecap="round"/><path d="M229.5 612L241.5 613" stroke="#fff" stroke-width="3.8" fill="none" stroke-linecap="round"/><ellipse class="w" cx="229" cy="612" rx="3.6" ry="6.2" transform="rotate(5 229 612)" style="stroke-width:1.3"/><ellipse class="w" cx="227.9" cy="611.9" rx="2.4" ry="5.9" transform="rotate(5 227.9 611.9)" style="stroke-width:1.3"/>
<path d="M124.2 673.4L138.2 673.9" stroke="#000" stroke-width="7.2" fill="none" stroke-linecap="round"/><path d="M124.2 673.4L138.2 673.9" stroke="#fff" stroke-width="4.8" fill="none" stroke-linecap="round"/><ellipse class="w" cx="123.7" cy="673.4" rx="4.2" ry="7" transform="rotate(2 123.7 673.4)" style="stroke-width:1.3"/><ellipse class="w" cx="122.6" cy="673.3" rx="3" ry="6.7" transform="rotate(2 122.6 673.3)" style="stroke-width:1.3"/>
<path d="M372 743.5L361.8 736.3" stroke="#000" stroke-width="6.5" fill="none" stroke-linecap="round"/><path d="M372 743.5L361.8 736.3" stroke="#fff" stroke-width="4.1" fill="none" stroke-linecap="round"/><ellipse class="w" cx="372.4" cy="743.8" rx="4.1" ry="6.6" transform="rotate(215 372.4 743.8)" style="stroke-width:1.3"/><ellipse class="w" cx="373.3" cy="744.4" rx="2.9" ry="6.3" transform="rotate(215 373.3 744.4)" style="stroke-width:1.3"/>
<path d="M317 776.5L307.3 767.8" stroke="#000" stroke-width="6.5" fill="none" stroke-linecap="round"/><path d="M317 776.5L307.3 767.8" stroke="#fff" stroke-width="4.1" fill="none" stroke-linecap="round"/><ellipse class="w" cx="317.4" cy="776.8" rx="4.1" ry="6.6" transform="rotate(222 317.4 776.8)" style="stroke-width:1.3"/><ellipse class="w" cx="318.2" cy="777.6" rx="2.9" ry="6.3" transform="rotate(222 318.2 777.6)" style="stroke-width:1.3"/>
<path d="M416 828.5L406.2 821.6" stroke="#000" stroke-width="6.5" fill="none" stroke-linecap="round"/><path d="M416 828.5L406.2 821.6" stroke="#fff" stroke-width="4.1" fill="none" stroke-linecap="round"/><ellipse class="w" cx="416.4" cy="828.8" rx="4.1" ry="6.6" transform="rotate(215 416.4 828.8)" style="stroke-width:1.3"/><ellipse class="w" cx="417.3" cy="829.4" rx="2.9" ry="6.3" transform="rotate(215 417.3 829.4)" style="stroke-width:1.3"/>
<path d="M491.5 796.5L481.7 789.6" stroke="#000" stroke-width="6.5" fill="none" stroke-linecap="round"/><path d="M491.5 796.5L481.7 789.6" stroke="#fff" stroke-width="4.1" fill="none" stroke-linecap="round"/><ellipse class="w" cx="491.9" cy="796.8" rx="4.1" ry="6.6" transform="rotate(215 491.9 796.8)" style="stroke-width:1.3"/><ellipse class="w" cx="492.8" cy="797.4" rx="2.9" ry="6.3" transform="rotate(215 492.8 797.4)" style="stroke-width:1.3"/>
<ellipse class="w" cx="319.5" cy="756.6" rx="4.4" ry="5.8" transform="rotate(-20 319.5 756.6)" style="stroke-width:1.5"/><ellipse class="w" cx="322.2" cy="758.7" rx="4.9" ry="5.9" transform="rotate(-20 322.2 758.7)" style="stroke-width:0.9"/><ellipse class="w" cx="325" cy="760.7" rx="5.4" ry="6" transform="rotate(-20 325 760.7)" style="stroke-width:1.5"/><ellipse class="w" cx="325" cy="760.7" rx="2.2" ry="2.7" transform="rotate(-20 325 760.7)" style="stroke-width:1.4"/>
<ellipse class="w" cx="357" cy="783" rx="4.4" ry="5.8" transform="rotate(-20 357 783)" style="stroke-width:1.5"/><ellipse class="w" cx="359.4" cy="785.1" rx="4.9" ry="5.9" transform="rotate(-20 359.4 785.1)" style="stroke-width:0.9"/><ellipse class="w" cx="361.9" cy="787.2" rx="5.4" ry="6" transform="rotate(-20 361.9 787.2)" style="stroke-width:1.5"/><ellipse class="w" cx="361.9" cy="787.2" rx="2.2" ry="2.7" transform="rotate(-20 361.9 787.2)" style="stroke-width:1.4"/>
<ellipse class="w" cx="429.4" cy="741.3" rx="4.4" ry="5.8" transform="rotate(-20 429.4 741.3)" style="stroke-width:1.5"/><ellipse class="w" cx="432.2" cy="743.6" rx="4.9" ry="5.9" transform="rotate(-20 432.2 743.6)" style="stroke-width:0.9"/><ellipse class="w" cx="435" cy="746" rx="5.4" ry="6" transform="rotate(-20 435 746)" style="stroke-width:1.5"/><ellipse class="w" cx="435" cy="746" rx="2.2" ry="2.7" transform="rotate(-20 435 746)" style="stroke-width:1.4"/>
<ellipse class="w" cx="263.6" cy="788.9" rx="4.8" ry="5.4" transform="rotate(-20 263.6 788.9)" style="stroke-width:1.5"/><ellipse class="w" cx="266.1" cy="791" rx="5.4" ry="6" transform="rotate(-20 266.1 791)" style="stroke-width:0.9"/><ellipse class="w" cx="268.6" cy="793.2" rx="6" ry="6.5" transform="rotate(-20 268.6 793.2)" style="stroke-width:1.5"/><ellipse class="w" cx="268.6" cy="793.2" rx="2.4" ry="2.9" transform="rotate(-20 268.6 793.2)" style="stroke-width:1.4"/>
<path d="M184.9 674.3L254.2 647" stroke="#b5b5b5" stroke-width="0.7" fill="none" stroke-dasharray="6 2 1.5 2"/>
<path d="M193.5 680.4L251.7 658.2" stroke="#b5b5b5" stroke-width="0.7" fill="none" stroke-dasharray="6 2 1.5 2"/>
<path d="M194.8 692.8L269 656.9" stroke="#b5b5b5" stroke-width="0.7" fill="none" stroke-dasharray="6 2 1.5 2"/>
<path d="M322.5 750L324.5 738" stroke="#b5b5b5" stroke-width="0.7" fill="none" stroke-dasharray="6 2 1.5 2"/>
</g>
<g id="g_fairlead">
<path class="w" d="M369.1 788.7L384.9 781.6L445.2 746.9L461 737.6L465.6 740.4L470.2 758L469.3 764.5L458.2 768.3L413.7 792L404.4 797Z" style="stroke-width:1.5"/>
<path class="w" d="M413.7 790.5L450.8 772.9L449.8 788.7L414.6 804.4Z"/>
<path class="w" d="M414.6 804.4L449.8 788.7L448.9 792.7L413.7 807.6Z"/>
<path class="t" d="M414 793.3L450.4 776"/>
<path class="l" d="M445.2 775.7C445.9 776.3 448.7 777.2 449.3 779.4C449.9 781.5 449 787.1 448.9 788.7"/>
<path class="l" d="M402.5 779.4L442.4 758L445.2 759.2L405.3 781.6Z"/>
<path class="l" d="M406.6 778.8L409 777.5L408.1 780.1Z" style="fill:#000;stroke-width:0.6"/>
<path class="l" d="M394.2 785.3L398.4 787.9" style="stroke-width:2.4"/>
<path class="l" d="M452.2 751.9L456.7 754.5" style="stroke-width:2.4"/>
<path class="t" d="M445.2 746.9L448.5 751.6L458.2 760.8"/>
<path class="t" d="M388.6 783.5L445.2 752.1"/>
<path class="w" d="M369.1 788.7L362.6 819.3L365.4 824.3L396 831.3L403.5 797.9Z" style="stroke-width:1.5"/>
<path class="l" d="M374.7 793.3L370.6 815.6L392.3 822.1L397.9 800.7Z"/>
<path class="t" d="M370.6 815.6L365.4 824.3"/>
<path class="t" d="M374.7 793.3L380.3 797L397.9 800.7"/>
<path class="t" d="M380.3 797L377.5 817.4"/>
<path class="w" d="M380.3 807.2L385.8 804.4L391.4 809.1L390.5 816.5L384 817.4Z" style="stroke-width:1.3"/>
<path class="l" d="M372.8 799.8L376.6 796.1L377.5 802.6Z" style="fill:#333;stroke-width:0.8"/>
<path class="w" d="M403.1 795.2L397 827.6L399.7 831L405.3 831.3L408.5 829.1L413.7 796.1Z" style="stroke-width:1.5"/>
<ellipse class="w" cx="408.1" cy="793.3" rx="5.4" ry="3.9" transform="rotate(10 408.1 793.3)" style="stroke-width:1.5"/>
<path class="l" d="M403.1 797C403.7 797.4 404.9 799.3 406.6 799.4C408.3 799.5 412.2 797.9 413.3 797.6"/>
<path class="t" d="M397.3 825.8C398 826.2 399.8 828.2 401.6 828.5C403.4 828.9 407 827.8 408.1 827.6"/>
<path class="w" d="M457.8 764.9L450.8 797L453 800.7L458.2 802L461.9 798.3L468.8 765.5Z" style="stroke-width:1.5"/>
<ellipse class="w" cx="463" cy="762.7" rx="5.8" ry="4.2" transform="rotate(10 463 762.7)" style="stroke-width:1.5"/>
<path class="l" d="M457.8 766.8C458.5 767.2 460.1 769.1 461.9 769.2C463.7 769.2 467.5 767.5 468.6 767.1"/>
<path class="l" d="M450.2 796.1C450.9 796.7 452.5 799.6 454.5 799.8C456.4 799.9 460.7 797.5 461.9 797" style="stroke-width:2"/>
<path class="l" d="M449.7 798.3C450.5 799 452.5 802.1 454.5 802.4C456.5 802.6 460.4 800.2 461.5 799.8"/>
</g>
<g id="h_hook">
<path class="w" d="M497.9 879.2L476.8 964.1L485.4 959.8L503.8 888.4L506.5 873.8Z" style="stroke-width:1.4"/>
<path class="l" d="M494.4 896L502.7 889.3L502 893.3L493.5 899.4Z" style="fill:#222;stroke-width:0.8"/>
<path class="l" d="M490.8 910.9L497.3 906.6L489.2 941.6L482.2 945.9Z" style="fill:#1a1a1a;stroke-width:0.8"/>
<path d="M489.4 921.3L491 920.3" stroke="#fff" stroke-width="0.9" fill="none"/>
<path d="M486.4 932.9L487.9 931.9" stroke="#fff" stroke-width="0.9" fill="none"/>
<path d="M488.4 928.2L489.9 927.3" stroke="#fff" stroke-width="0.9" fill="none"/>
<path d="M492.9 911.2L494.4 910.2" stroke="#fff" stroke-width="0.9" fill="none"/>
<path d="M492.8 910.6L494.3 909.6" stroke="#fff" stroke-width="0.9" fill="none"/>
<path d="M491.4 912.5L492.9 911.5" stroke="#fff" stroke-width="0.9" fill="none"/>
<path d="M490.9 923.3L492.4 922.4" stroke="#fff" stroke-width="0.9" fill="none"/>
<path d="M491.4 914.1L492.9 913.1" stroke="#fff" stroke-width="0.9" fill="none"/>
<path d="M489.6 930.2L491.1 929.2" stroke="#fff" stroke-width="0.9" fill="none"/>
<path d="M488.1 929.6L489.6 928.6" stroke="#fff" stroke-width="0.9" fill="none"/>
<path d="M483.5 944.4L485.1 943.4" stroke="#fff" stroke-width="0.9" fill="none"/>
<path d="M485.4 939.7L486.9 938.7" stroke="#fff" stroke-width="0.9" fill="none"/>
<path d="M490.9 915L492.4 914.1" stroke="#fff" stroke-width="0.9" fill="none"/>
<path d="M491.8 919.3L493.3 918.3" stroke="#fff" stroke-width="0.9" fill="none"/>
<path d="M492.1 915.3L493.6 914.3" stroke="#fff" stroke-width="0.9" fill="none"/>
<path d="M487.5 931.8L489 930.9" stroke="#fff" stroke-width="0.9" fill="none"/>
<path d="M487.2 929.3L488.8 928.3" stroke="#fff" stroke-width="0.9" fill="none"/>
<path d="M491.9 911.9L493.4 910.9" stroke="#fff" stroke-width="0.9" fill="none"/>
<path d="M487.4 933.2L488.9 932.2" stroke="#fff" stroke-width="0.9" fill="none"/>
<path d="M491 920L492.5 919" stroke="#fff" stroke-width="0.9" fill="none"/>
<path d="M488.8 925.5L490.4 924.5" stroke="#fff" stroke-width="0.9" fill="none"/>
<path d="M487.4 936.6L488.9 935.6" stroke="#fff" stroke-width="0.9" fill="none"/>
<path class="w" d="M494.7 857.4C491.8 860.4 490 870.6 488.5 873.8C487.1 877.1 486.4 875.4 486.1 876.9C485.8 878.5 485.9 881.6 486.7 883.1C487.5 884.6 489.4 886 491 886.2C492.7 886.4 495.1 885.7 496.6 884.3C498 883 498.1 879.9 499.7 878.2C501.2 876.4 504.7 873.6 505.8 873.8C507 874 505.4 879.3 506.5 879.4C507.5 879.5 510.4 876.7 512 874.4C513.7 872.2 515.6 868.4 516.4 865.8C517.1 863.2 517.1 860.9 516.4 859C515.6 857 513.8 854.6 512 854C510.3 853.5 508.7 855.3 505.8 855.9C503 856.5 497.6 854.4 494.7 857.4Z" style="stroke-width:1.5"/>
<path class="l" d="M488.5 873.8C489.1 874.1 490.7 875.1 491.6 875.7C492.6 876.3 493.3 877.3 494.1 877.5C494.9 877.7 496.2 877 496.6 876.9"/>
<path class="l" d="M502.4 862.1L496.6 876.9"/>
<path class="l" d="M496.6 876.9L499.7 878.2"/>
<path class="t" d="M499 860.8L494.7 874.4"/>
<path class="l" d="M507.1 862.1C506.7 862.9 504.8 865.1 504.6 867C504.4 869 505.6 872.7 505.8 873.8"/>
<ellipse class="w" cx="513.5" cy="845.8" rx="3.6" ry="5" transform="rotate(-15 513.5 845.8)" style="stroke-width:1.5"/>
<ellipse class="w" cx="508.3" cy="847" rx="4.3" ry="5.7" transform="rotate(-15 508.3 847)" style="stroke-width:1.5"/>
<ellipse class="l" cx="509.3" cy="847.9" rx="2.2" ry="3.3" transform="rotate(-15 509.3 847.9)"/>
<ellipse class="w" cx="499.7" cy="851.6" rx="4.9" ry="6.4" transform="rotate(-15 499.7 851.6)" style="stroke-width:1.9"/>
<ellipse class="l" cx="499.2" cy="852.7" rx="2.9" ry="4.3" transform="rotate(-15 499.2 852.7)"/>
<path class="l" d="M517 842.3L519.4 843.5L520.9 848.5L518.8 849.1L516.7 845.4Z" style="fill:#111"/>
<path class="l" d="M507.7 833.7L509.3 833.9L510.5 839.2L508.6 838.8Z" style="fill:#111"/>
</g>
<g id="i_grommet">
<ellipse class="w" cx="352" cy="36.4" rx="18.6" ry="11.2" transform="rotate(8 352 36.4)" style="stroke-width:1.5"/>
<ellipse class="w" cx="352" cy="33.8" rx="18.6" ry="11" transform="rotate(8 352 33.8)" style="stroke-width:1.4"/>
<ellipse class="w" cx="352.3" cy="32.5" rx="12.2" ry="6.8" transform="rotate(8 352.3 32.5)" style="stroke-width:1.6"/>
<ellipse class="l" cx="352.3" cy="33.5" rx="11" ry="5.6" transform="rotate(8 352.3 33.5)" style="stroke-width:0.8"/>
<path d="M341.9 32.2L362.7 33.7" stroke="#000" stroke-width="1" fill="none"/>
<path d="M344 29.5L360.6 36.4" stroke="#000" stroke-width="1" fill="none"/>
<path d="M348.4 27.8L356.2 38.1" stroke="#000" stroke-width="1" fill="none"/>
<path d="M353.8 27.4L350.8 38.5" stroke="#000" stroke-width="1" fill="none"/>
<path d="M358.8 28.5L345.8 37.4" stroke="#000" stroke-width="1" fill="none"/>
<path d="M362 30.9L342.6 35" stroke="#000" stroke-width="1" fill="none"/>
<ellipse class="l" cx="345.5" cy="31" rx="2.2" ry="1.6" style="fill:#000"/>
<path class="l" d="M334.5 39C334.9 39.5 335.9 41.2 337 42C338.1 42.8 340.3 43.7 341 44" style="stroke-width:2.2"/>
</g>
<g id="z_labels">
<text class="n" x="158.4" y="122.3" text-anchor="middle" font-size="19">9</text>
<path class="l" d="M171.2 120.5L205 130"/>
<text class="n" x="403.4" y="80.5" text-anchor="middle" font-size="19">13</text>
<path class="l" d="M363 47L391.2 65.5"/>
<text class="n" x="388.6" y="265.5" text-anchor="middle" font-size="19">3</text>
<path class="l" d="M376.2 266.2L340.8 286.2"/>
<text class="n" x="307.7" y="286" text-anchor="middle" font-size="19">8</text>
<path class="l" d="M294.5 282L267.5 289.5"/>
<text class="n" x="309.4" y="337.3" text-anchor="middle" font-size="19">10</text>
<path class="l" d="M295 326.2L276 317.5"/>
<text class="n" x="121.8" y="271.8" text-anchor="middle" font-size="19">6</text>
<path class="l" d="M127.5 275L138.8 290"/>
<text class="n" x="170.7" y="317.3" text-anchor="middle" font-size="19">11</text>
<path class="l" d="M181.5 303.5L190.5 296.5"/>
<text class="n" x="152.9" y="423.5" text-anchor="middle" font-size="19">7</text>
<path class="l" d="M160.8 407L172.5 390"/>
<text class="n" x="154.9" y="479" text-anchor="middle" font-size="19">4</text>
<path class="l" d="M168 477.5L190 483.8"/>
<text class="n" x="361.6" y="512.3" text-anchor="middle" font-size="19">5</text>
<path class="l" d="M352.5 518.8L345 528.8"/>
<text class="n" x="95" y="670.8" text-anchor="middle" font-size="19">15</text>
<path class="l" d="M107.2 669L118.6 671.5"/>
<text class="n" x="397.7" y="661" text-anchor="middle" font-size="19">12</text>
<path class="l" d="M385.3 662.3L362.7 678.3"/>
<text class="n" x="173.9" y="785.5" text-anchor="middle" font-size="19">14</text>
<path class="l" d="M183 770.2L199.5 754"/>
<text class="n" x="238.8" y="836" text-anchor="middle" font-size="19">16</text>
<path class="l" d="M246.9 819.2L263.9 799.1"/>
<text class="n" x="352.4" y="868.5" text-anchor="middle" font-size="19">17</text>
<path class="l" d="M360 852.8L380.4 828.7"/>
<text class="n" x="558.4" y="845.4" text-anchor="middle" font-size="19">1</text>
<path class="l" d="M546.2 844.5L517.5 859.5"/>
<text class="n" x="557.6" y="920.5" text-anchor="middle" font-size="19">2</text>
<path class="l" d="M542.5 910.5L501.2 900.5"/>
<text class="n" x="343" y="598" font-size="19" textLength="239.6" lengthAdjust="spacingAndGlyphs">© 2015 Polaris Industries Inc.</text>
<text class="n" x="572.5" y="968.4" font-size="19" textLength="61" lengthAdjust="spacingAndGlyphs">700792</text>
</g>
<!-- /PARTS -->
<!-- WATERMARK -->
<g id="wm" transform="translate(82.5,950.5) rotate(-59.75)">
<text class="wm wmi" filter="url(#wf)" transform="scale(1.236,1)" x="2.17 57.16 112.15" y="0">www</text>
<text class="wm wmi" filter="url(#wf)" transform="scale(1.155,1)" x="177.89 198.05 239.75 281.81 302.81 344.10 371.83 392.30 431.82 472.20 499.65 538.26 580.85 606.76 643.19 670.76 711.19 731.95 753.86 794.29 814.70 857.77" y="0">.polarisersatzteile.de</text>
</g>

</svg>
</body>
</html>
